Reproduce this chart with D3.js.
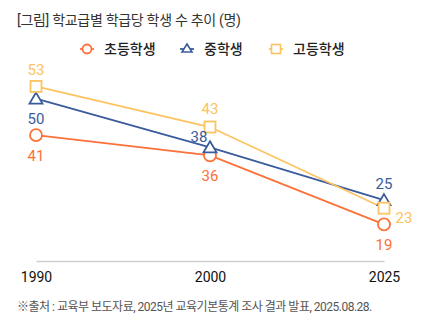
<!DOCTYPE html>
<html><head><meta charset="utf-8">
<script src="https://cdn.jsdelivr.net/npm/d3@7"></script>
<style>
html,body{margin:0;padding:0;background:#fff;}
svg{display:block;font-family:Roboto,"Noto Sans CJK KR","Noto Sans",sans-serif;}
</style></head>
<body>
<svg id="c" width="425" height="325"></svg>
<script>
const title = "[그림] 학교급별 학급당 학생 수 추이 (명)";
const source = "※출처 : 교육부 보도자료, 2025년 교육기본통계 조사 결과 발표, 2025.08.28.";
const years = ["1990", "2000", "2025"];
const seriesNames = ["초등학생", "중학생", "고등학생"];
const elementary = [41, 36, 19];
const middle = [50, 38, 25];
const high = [53, 43, 23];
const colors = ["#fd7037", "#3a5b9c", "#fdc360"];
const shapes = ["circle", "triangle", "square"];
// label placement per series per point: [dx, dy]
const labelPos = [
  [[0, 21], [0, 20], [0, 20]],
  [[0, 20], [-11, -11], [0, -16]],
  [[0, -17], [0, -18], [20, 10]]
];
const seriesData = [elementary, middle, high];

const svg = d3.select("#c");
const x = d3.scalePoint().domain(years).range([36, 384]);
const y = d3.scaleLinear().domain([10, 60]).range([261, 58]);

svg.append("text").attr("x", 17).attr("y", 25).attr("font-size", 14).attr("fill", "#333")
  .attr("letter-spacing", -0.3).text(title);

// legend
const legendX = [87, 187, 276];
function drawMarker(g, shape, color, cx, cy) {
  if (shape === "circle") {
    g.append("circle").attr("cx", cx).attr("cy", cy).attr("r", 6)
      .attr("fill", "#fff").attr("stroke", color).attr("stroke-width", 1.8);
  } else if (shape === "triangle") {
    g.append("path").attr("d", `M${cx},${cy-6}L${cx+6.5},${cy+5}L${cx-6.5},${cy+5}Z`)
      .attr("fill", "#fff").attr("stroke", color).attr("stroke-width", 1.8);
  } else {
    g.append("rect").attr("x", cx-5.5).attr("y", cy-5.5).attr("width", 11).attr("height", 11)
      .attr("fill", "#fff").attr("stroke", color).attr("stroke-width", 1.8);
  }
}
seriesNames.forEach((n, i) => {
  const g = svg.append("g");
  const cx = legendX[i], cy = 49;
  g.append("line").attr("x1", cx-7).attr("x2", cx+7).attr("y1", cy).attr("y2", cy)
    .attr("stroke", colors[i]).attr("stroke-width", 1.8);
  const s = shapes[i];
  if (s === "circle") g.append("circle").attr("cx", cx).attr("cy", cy).attr("r", 4.5).attr("fill", "#fff").attr("stroke", colors[i]).attr("stroke-width", 1.8);
  else if (s === "triangle") g.append("path").attr("d", `M${cx},${cy-5}L${cx+5},${cy+3}L${cx-5},${cy+3}Z`).attr("fill", "#fff").attr("stroke", colors[i]).attr("stroke-width", 1.6);
  else g.append("rect").attr("x", cx-4.5).attr("y", cy-4.5).attr("width", 9).attr("height", 9).attr("fill", "#fff").attr("stroke", colors[i]).attr("stroke-width", 1.6);
  g.append("text").attr("x", cx + 17).attr("y", cy + 5).attr("font-size", 14).attr("font-weight", 500)
    .attr("fill", "#222").text(n);
});

// axis
const xAxis = svg.append("g").attr("transform", "translate(0,261)")
  .call(d3.axisBottom(x).tickSize(0).tickPadding(11));
xAxis.select(".domain").attr("stroke", "#d0d0d0").attr("stroke-width", 1.3);
xAxis.selectAll("text").attr("font-size", 14).attr("font-weight", 400).attr("fill", "#111")
  .attr("font-family", "Roboto,'Noto Sans CJK KR',sans-serif");

const line = d3.line().x((d, i) => x(years[i])).y(d => y(d));
seriesData.forEach((vals, si) => {
  svg.append("path").datum(vals).attr("d", line).attr("fill", "none")
    .attr("stroke", colors[si]).attr("stroke-width", 1.8);
});
seriesData.forEach((vals, si) => {
  vals.forEach((v, i) => {
    drawMarker(svg, shapes[si], colors[si], x(years[i]), y(v));
  });
});
seriesData.forEach((vals, si) => {
  vals.forEach((v, i) => {
    const [dx, dy] = labelPos[si][i];
    svg.append("text").attr("x", x(years[i]) + dx).attr("y", y(v) + dy).attr("dy", "0.35em")
      .attr("text-anchor", "middle").attr("font-size", 15).attr("fill", colors[si]).text(v);
  });
});

svg.append("text").attr("x", 17).attr("y", 311).attr("font-size", 12).attr("fill", "#555")
  .attr("letter-spacing", -0.5).text(source);
</script>
</body></html>
